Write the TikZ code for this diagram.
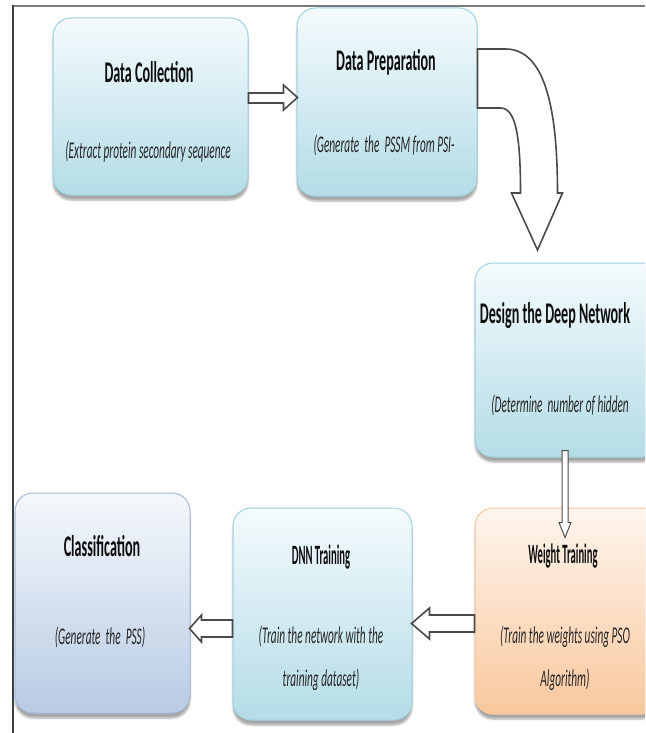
\documentclass[tikz,border=0pt]{standalone}
\usepackage{fontspec}
\setmainfont{Carlito}[FakeStretch=0.47]
\newfontfamily\narrowcarlito{Carlito}[FakeStretch=0.38]
\usetikzlibrary{calc,shadows.blur}
\definecolor{bluetop}{HTML}{F4FBFD}
\definecolor{bluebot}{HTML}{B4DCE7}
\definecolor{blueedge}{HTML}{9FD2E0}
\definecolor{lavtop}{HTML}{F5F8FC}
\definecolor{lavbot}{HTML}{B8CBE4}
\definecolor{lavedge}{HTML}{A3BCDD}
\definecolor{peachtop}{HTML}{FEF5EE}
\definecolor{peachbot}{HTML}{F9C89D}
\definecolor{peachedge}{HTML}{F8C7A0}
\definecolor{arrowline}{HTML}{4A4A4A}
\definecolor{framegray}{HTML}{7A7A7A}
\begin{document}
\begin{tikzpicture}[x=1pt,y=-1pt,
  boxbase/.style={rounded corners=18pt, line width=1pt,
    blur shadow={shadow xshift=0pt, shadow yshift=-5pt, shadow blur steps=6, shadow opacity=35}},
  bluebox/.style={boxbase, draw=blueedge, top color=bluetop, bottom color=bluebot},
  lavbox/.style={boxbase, draw=lavedge, top color=lavtop, bottom color=lavbot},
  peachbox/.style={boxbase, draw=peachedge, top color=peachtop, bottom color=peachbot},
  ttl/.style={font=\bfseries\fontsize{30}{34}\selectfont, text=black!95, inner sep=0pt},
  nttl/.style={font=\narrowcarlito\bfseries\fontsize{28}{32}\selectfont, text=black!95, inner sep=0pt},
  sub/.style={font=\itshape\fontsize{24}{43}\selectfont, text=black!85, inner sep=0pt, align=center},
  blk/.style={draw=arrowline, fill=white, line width=1.6pt, line join=miter},
  thinblk/.style={draw=arrowline, fill=white, line width=1pt, line join=miter}]
\useasboundingbox (0,0) rectangle (645,733);
\clip (0,0) rectangle (645,733);
% frame
\draw[framegray, line width=2pt] (645,6) -- (13,6);
\draw[black!75, line width=1.4pt] (13,5) -- (13,733);
% boxes
\node[bluebox, minimum width=195pt, minimum height=177pt] (dc) at (150.5,106.5) {};
\node[bluebox, minimum width=180pt, minimum height=188pt] (dp) at (387,102) {};
\node[bluebox, minimum width=185pt, minimum height=194pt] (dd) at (567.5,360) {};
\node[peachbox, minimum width=185pt, minimum height=206pt] (wt) at (567.5,611) {};
\node[bluebox, minimum width=179pt, minimum height=212pt] (dnn) at (322.5,614) {};
\node[lavbox, minimum width=175pt, minimum height=220pt] (cl) at (102.5,603) {};
% texts
\node[ttl] (dct) at (149,72) {Data Collection};
\node[sub] (dcs) at (148,152) {(Extract protein secondary sequence};
\node[ttl] (dpt) at (386,62) {Data Preparation};
\node[sub] (dps) at (384,145) {(Generate\ \ the\ \ PSSM from PSI-};
\node[ttl] (ddt) at (555,316) {Design the Deep Network};
\node[sub] (dds) at (560,405) {(Determine\ \ number of hidden};
\node[nttl] (wtt) at (563,556) {Weight Training};
\node[sub] (wts) at (565,658) {(Train the weights using PSO\\Algorithm)};
\node[nttl] (dnnt) at (321,557) {DNN Training};
\node[sub] (dnns) at (321,658) {(Train the network with the\\training dataset)};
\node[ttl] (clt) at (102,546) {Classification};
\node[sub] (cls) at (100,637) {(Generate\ \ the\ \ PSS)};
% arrows
\draw[blk] ($(dc.east)+(0,-13.5)$) -- ++(35,0) -- ++(0,-8) -- ++(14,12.5) -- ++(-14,12.5) -- ++(0,-7) -- ++(-35,0) -- cycle;
\draw[blk] ($(dp.east)+(0,-53)$) -- ++(28,0)
   .. controls +(40,0) and +(0,-83) .. ++(52,144)
   -- ++(5,0) -- ++(-25,57) -- ++(-26,-57) -- ++(9,0)
   .. controls +(0,-58) and +(15,0) .. ++(-20,-85)
   -- ++(-23,0) -- cycle;
\draw[thinblk] ($(dd.south)+(-5.5,-7)$) -- ++(0,72) -- ++(-3,0) -- ++(6,15) -- ++(6,-15) -- ++(-3,0) -- ++(0,-72) -- cycle;
\draw[blk] ($(wt.west)+(0,4)$) -- ++(-45,0) -- ++(0,-7) -- ++(-18,15.5) -- ++(18,15.5) -- ++(0,-7) -- ++(45,0) -- cycle;
\draw[blk] ($(dnn.west)+(0,6)$) -- ++(-31,0) -- ++(0,-5) -- ++(-12,13.5) -- ++(12,13.5) -- ++(0,-5) -- ++(31,0) -- cycle;
\end{tikzpicture}
\end{document}
